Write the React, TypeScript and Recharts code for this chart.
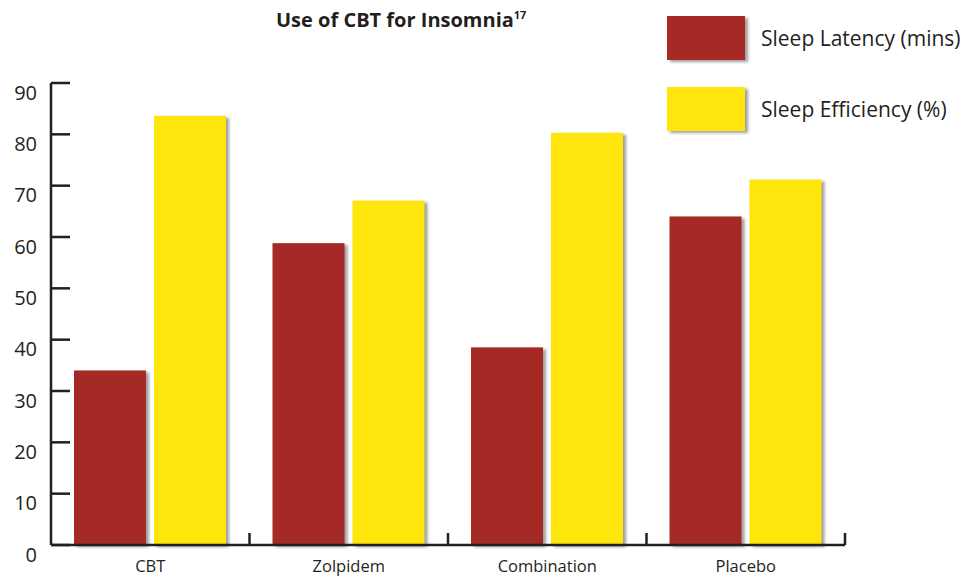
import { BarChart, Bar, XAxis, YAxis } from "recharts";

const treatments = ["CBT", "Zolpidem", "Combination", "Placebo"];
const sleepLatency = [34, 58.8, 38.5, 64];
const sleepEfficiency = [83.6, 67.1, 80.3, 71.2];
const yTicks = [0, 10, 20, 30, 40, 50, 60, 70, 80, 90];

const series = [
  { key: "latency", name: "Sleep Latency (mins)", color: "#a52a25" },
  { key: "efficiency", name: "Sleep Efficiency (%)", color: "#fee60c" },
];

const data = treatments.map((t, i) => ({
  name: t,
  latency: sleepLatency[i],
  efficiency: sleepEfficiency[i],
}));

const FONT = "'Open Sans', 'DejaVu Sans', sans-serif";
const INK = "#231f20";
const CHART_W = 971;
const CHART_H = 578;
const MARGIN = { top: 83, right: 126, bottom: 0, left: 6 };
const X_AXIS_H = 33;
const Y_AXIS_W = 45;
const plotW = CHART_W - MARGIN.left - MARGIN.right - Y_AXIS_W;
const band = plotW / treatments.length;

const shadow = "drop-shadow(3px 2px 1.5px rgba(40,40,40,0.45))";

function ShadowBar(props: any) {
  const { x, y, width, height, fill } = props;
  if (!height || height <= 0) return null;
  return <rect x={x} y={y} width={width} height={height} fill={fill} style={{ filter: shadow }} />;
}

function YTick({ x, y, payload }: any) {
  return (
    <g>
      <line x1={x} x2={x + 19} y1={y} y2={y} stroke={INK} strokeWidth={2.5} />
      <text x={x - 14} y={y + 9} textAnchor="end" dominantBaseline="central" fontSize={20} fill={INK} fontFamily={FONT}>
        {payload.value}
      </text>
    </g>
  );
}

// category label in the middle, separator tick at the right edge of the band
function XTick({ x, y, payload }: any) {
  const edge = x + band / 2;
  return (
    <g>
      <line x1={edge} x2={edge} y1={y} y2={y - 12} stroke={INK} strokeWidth={2.5} />
      <text x={x} y={y + 27} textAnchor="middle" fontSize={16.5} fill={INK} fontFamily={FONT}>
        {payload.value}
      </text>
    </g>
  );
}

export default function App() {
  return (
    <div style={{ position: "absolute", left: 0, top: 0, width: CHART_W, height: CHART_H, background: "#fff", fontFamily: FONT }}>
      <div style={{ position: "absolute", left: 276, top: 6, fontSize: 20, fontWeight: 700, color: INK, whiteSpace: "nowrap" }}>
        Use of CBT for Insomnia<sup style={{ fontSize: 11 }}>17</sup>
      </div>
      {series.map((s, i) => (
        <div key={s.key} style={{ position: "absolute", left: 667, top: 16 + i * 71, display: "flex", alignItems: "center" }}>
          <div style={{ width: 78, height: 44, background: s.color, filter: shadow }} />
          <span style={{ marginLeft: 16, fontSize: 21, color: INK, whiteSpace: "nowrap" }}>{s.name}</span>
        </div>
      ))}
      <BarChart width={CHART_W} height={CHART_H} data={data} margin={MARGIN} barGap={8} barSize={72}>
        <XAxis
          dataKey="name"
          axisLine={{ stroke: INK, strokeWidth: 2.5 }}
          tickLine={false}
          tickSize={0}
          tickMargin={0}
          height={X_AXIS_H}
          tick={<XTick />}
          interval={0}
        />
        <YAxis
          domain={[0, 90]}
          ticks={yTicks}
          width={Y_AXIS_W}
          axisLine={{ stroke: INK, strokeWidth: 2.5 }}
          tickLine={false}
          tickSize={0}
          tickMargin={0}
          tick={<YTick />}
          interval={0}
        />
        {series.map((s) => (
          <Bar key={s.key} dataKey={s.key} name={s.name} fill={s.color} shape={<ShadowBar />} isAnimationActive={false} />
        ))}
      </BarChart>
    </div>
  );
}
